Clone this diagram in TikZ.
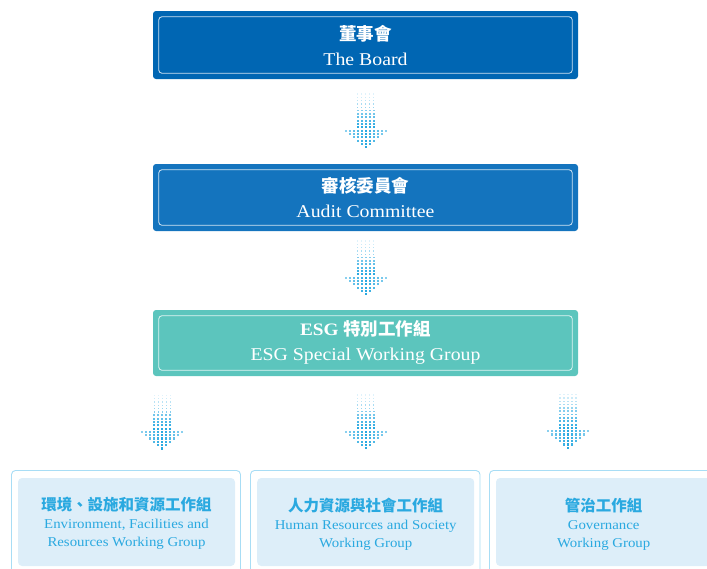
\documentclass[tikz,border=0pt]{standalone}
\usepackage{fontspec}
\setmainfont{Liberation Serif}[FakeStretch=1.1]
\newfontfamily\cjk{Noto Sans CJK TC}
\definecolor{boardblue}{HTML}{0066B3}
\definecolor{auditblue}{HTML}{1474BE}
\definecolor{esgteal}{HTML}{5CC5BD}
\definecolor{arrowc}{HTML}{29A9E1}
\definecolor{wgborder}{HTML}{A8DDF5}
\definecolor{wgfill}{HTML}{DDEEF9}
\definecolor{wgtext}{HTML}{2AA9E0}
\tikzset{
  topbox/.style={fill=#1, draw=none, rounded corners=3pt, minimum width=425pt, inner sep=0pt},
  innerline/.style={draw=white, line width=0.8pt, rounded corners=3pt, opacity=0.8},
  zhtitle/.style={font=\cjk\bfseries\fontsize{17.5}{19}\selectfont, text=white, anchor=center, inner sep=0pt},
  entitle/.style={font=\fontsize{18}{20}\selectfont, text=white, anchor=base, inner sep=0pt},
  wgouter/.style={draw=wgborder, line width=0.9pt, rounded corners=4pt},
  wginner/.style={fill=wgfill, draw=none, rounded corners=4pt, minimum width=217pt, minimum height=88pt, inner sep=0pt},
  wgzh/.style={font=\cjk\bfseries\fontsize{15.5}{17}\selectfont, text=wgtext, anchor=center, inner sep=0pt},
  wgen/.style={font=\fontsize{13.5}{15}\selectfont, text=wgtext, anchor=base, inner sep=0pt},
}
\newcommand\dotarrow[2]{%
  \foreach \i in {0,...,10}{%
    \pgfmathsetmacro\op{0.15+0.85*\i/10}%
    \pgfmathsetmacro\sz{1.1+1.0*\i/10}%
    \pgfmathsetmacro\yy{#2+3.33*\i-\sz/2}%
    \foreach \c in {-2,...,2}{%
      \pgfmathsetmacro\xx{#1+4*\c-\sz/2}%
      \fill[arrowc, opacity=\op] (\xx,\yy) rectangle ++(\sz,\sz);
    }%
  }%
  \foreach \j in {0,...,5}{%
    \pgfmathtruncatemacro\m{11-2*\j}%
    \pgfmathsetmacro\yy{#2+3.33*(11+\j)-1.1}%
    \foreach \c in {1,...,\m}{%
      \pgfmathsetmacro\off{\c-(\m+1)/2}%
      \pgfmathsetmacro\op{1-0.09*abs(\off)}%
      \pgfmathsetmacro\xx{#1+4*\off-1.1}%
      \fill[arrowc, opacity=\op] (\xx,\yy) rectangle ++(2.2,2.2);
    }%
  }%
}
\begin{document}
\begin{tikzpicture}[x=1pt, y=-1pt]
\useasboundingbox (0,0) rectangle (707,568);
\begin{scope}
\clip (0,0) rectangle (707,568);
% top boxes
\node[topbox=boardblue, minimum height=68pt] (board) at (365.5,45) {};
\draw[innerline] ([shift={(6,6)}]board.north west) rectangle ([shift={(-6,-6)}]board.south east);
\node[zhtitle] (boardzh) at (365.5,33.8) {董事會};
\node[entitle] (boarden) at (365.5,65.3) {The Board};

\node[topbox=auditblue, minimum height=67pt] (audit) at (365.5,197.5) {};
\draw[innerline] ([shift={(6,6)}]audit.north west) rectangle ([shift={(-6,-6)}]audit.south east);
\node[zhtitle] (auditzh) at (365.5,185.8) {審核委員會};
\node[entitle] (auditen) at (365.5,217.5) {Audit Committee};

\node[topbox=esgteal, minimum height=66pt] (esg) at (365.5,343) {};
\draw[innerline] ([shift={(6,6)}]esg.north west) rectangle ([shift={(-6,-6)}]esg.south east);
\node[zhtitle, font=\fontsize{17.5}{19}\selectfont] (esgzh) at (365.5,329) {\textbf{ESG} {\cjk\bfseries 特別工作組}};
\node[entitle] (esgen) at (365.5,360) {ESG Special Working Group};

% dotted arrows
\dotarrow{365.7}{94}
\dotarrow{365.7}{241}
\dotarrow{162.3}{395.3}
\dotarrow{365.7}{395}
\dotarrow{568}{394.6}

% working groups
\draw[wgouter] (11.5,580) -- (11.5,470.5) -- (240.5,470.5) -- (240.5,580);
\node[wginner] (envwg) at (126.5,522) {};
\node[wgzh] (envzh) at (126.5,505) {環境、設施和資源工作組};
\node[wgen] (enven1) at (126.5,528.3) {Environment, Facilities and};
\node[wgen] (enven2) at (126.5,546.5) {Resources Working Group};

\draw[wgouter] (250.5,580) -- (250.5,470.5) -- (480,470.5) -- (480,580);
\node[wginner] (humwg) at (365.7,522) {};
\node[wgzh] (humzh) at (365.7,505.5) {人力資源與社會工作組};
\node[wgen] (humen1) at (365.7,529) {Human Resources and Society};
\node[wgen] (humen2) at (365.7,547) {Working Group};

\draw[wgouter] (489.5,580) -- (489.5,470.5) -- (719,470.5) -- (719,580);
\node[wginner] (govwg) at (604.5,522) {};
\node[wgzh] (govzh) at (603.7,506) {管治工作組};
\node[wgen] (goven1) at (603.7,529.5) {Governance};
\node[wgen] (goven2) at (603.7,547) {Working Group};
\end{scope}
\end{tikzpicture}
\end{document}
